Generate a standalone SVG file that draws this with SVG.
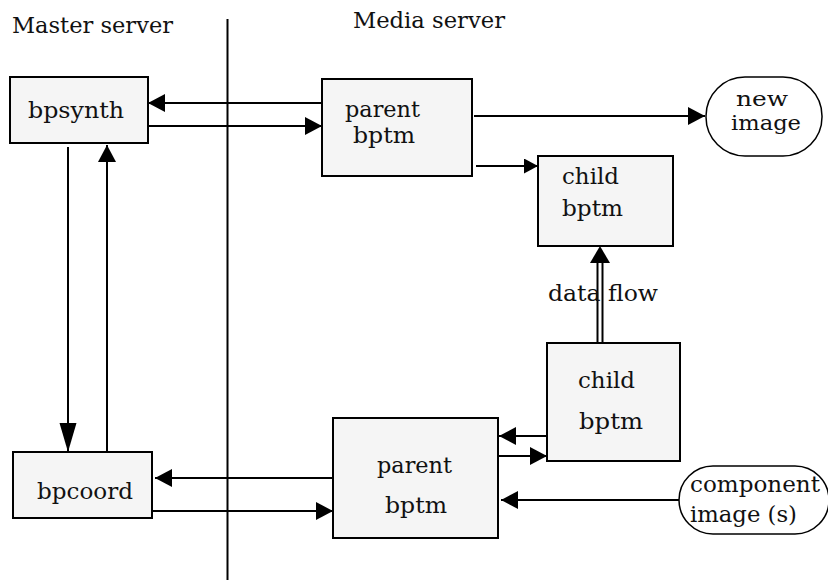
<svg xmlns="http://www.w3.org/2000/svg" width="828" height="585" viewBox="0 0 828 585">
<defs>
<style>
.box{fill:#f5f5f5;stroke:#000;stroke-width:2}
.term{fill:#fff;stroke:#000;stroke-width:1.5}
.t{font-family:"DejaVu Serif","Liberation Serif",serif;font-size:23px;fill:#111}
.s{font-size:21px}
.c{stroke:#000;stroke-width:2;fill:none}
.a{marker-end:url(#ah)}
</style>
<marker id="ah" markerUnits="userSpaceOnUse" markerWidth="18" markerHeight="20" refX="17" refY="9" orient="auto"><path d="M0,0 L17,9 L0,18 z" fill="#000"/></marker>
<marker id="ahs" markerUnits="userSpaceOnUse" markerWidth="16" markerHeight="16" refX="14" refY="7.5" orient="auto"><path d="M0,0 L14,7.5 L0,15 z" fill="#000"/></marker>
<marker id="ahl" markerUnits="userSpaceOnUse" markerWidth="30" markerHeight="18" refX="29" refY="8.5" orient="auto"><path d="M0,0 L29,8.5 L0,17 z" fill="#000"/></marker>
</defs>
<g id="labels">
<text class="t" x="12" y="33" textLength="161" lengthAdjust="spacingAndGlyphs">Master server</text>
<text class="t" x="353" y="28" textLength="152" lengthAdjust="spacingAndGlyphs">Media server</text>
</g>
<g id="connectors">
<line class="c" x1="227.5" y1="19" x2="227.5" y2="580"/>
<line class="c a" x1="322" y1="103" x2="148" y2="103"/>
<line class="c a" x1="148" y1="126" x2="322" y2="126"/>
<line class="c a" x1="474" y1="116" x2="705" y2="116"/>
<line class="c" x1="476" y1="166" x2="538" y2="166" marker-end="url(#ahs)"/>
<line class="c" x1="68" y1="147" x2="68" y2="452" marker-end="url(#ahl)"/>
<line class="c a" x1="107" y1="452" x2="107" y2="145"/>
<line class="c a" x1="333" y1="478" x2="155" y2="478"/>
<line class="c a" x1="152" y1="511" x2="333" y2="511"/>
<line class="c a" x1="547" y1="436" x2="499" y2="436"/>
<line class="c a" x1="498" y1="456" x2="547" y2="456"/>
<line class="c a" x1="679" y1="500" x2="501" y2="500"/>
<line class="c" x1="597.5" y1="343" x2="597.5" y2="262"/>
<line class="c" x1="602.5" y1="343" x2="602.5" y2="262"/>
<polygon points="590,263 600,246 610,263" fill="#000"/>
</g>
<g id="bpsynth"><rect class="box" x="10" y="77" width="138" height="66"/><text class="t" x="28" y="118" textLength="96" lengthAdjust="spacingAndGlyphs">bpsynth</text></g>
<g id="parent-top"><rect class="box" x="322" y="79" width="150" height="97"/><text class="t" x="345" y="117" textLength="75" lengthAdjust="spacingAndGlyphs">parent</text><text class="t" x="353" y="143" textLength="62" lengthAdjust="spacingAndGlyphs">bptm</text></g>
<g id="new-image"><rect class="term" x="706" y="77" width="116" height="79" rx="39" ry="39"/><text class="t s" x="736" y="106" textLength="52" lengthAdjust="spacingAndGlyphs">new</text><text class="t s" x="731" y="130" textLength="70" lengthAdjust="spacingAndGlyphs">image</text></g>
<g id="child-top"><rect class="box" x="538" y="156" width="135" height="90"/><text class="t" x="562" y="184" textLength="57" lengthAdjust="spacingAndGlyphs">child</text><text class="t" x="562" y="216" textLength="61" lengthAdjust="spacingAndGlyphs">bptm</text></g>
<g id="data-flow"><text class="t" x="548" y="301" textLength="110" lengthAdjust="spacingAndGlyphs">data flow</text></g>
<g id="child-bottom"><rect class="box" x="547" y="343" width="133" height="118"/><text class="t" x="578" y="388" textLength="57" lengthAdjust="spacingAndGlyphs">child</text><text class="t" x="579" y="429" textLength="64" lengthAdjust="spacingAndGlyphs">bptm</text></g>
<g id="parent-bottom"><rect class="box" x="333" y="418" width="165" height="120"/><text class="t" x="377" y="473" textLength="75" lengthAdjust="spacingAndGlyphs">parent</text><text class="t" x="385" y="513" textLength="62" lengthAdjust="spacingAndGlyphs">bptm</text></g>
<g id="bpcoord"><rect class="box" x="13" y="452" width="139" height="66"/><text class="t" x="37" y="499" textLength="96" lengthAdjust="spacingAndGlyphs">bpcoord</text></g>
<g id="component-image"><rect class="term" x="679" y="466" width="150" height="68" rx="34" ry="34"/><text class="t" x="690" y="492" textLength="130" lengthAdjust="spacingAndGlyphs">component</text><text class="t" x="690" y="522" textLength="107" lengthAdjust="spacingAndGlyphs">image (s)</text></g>
</svg>
